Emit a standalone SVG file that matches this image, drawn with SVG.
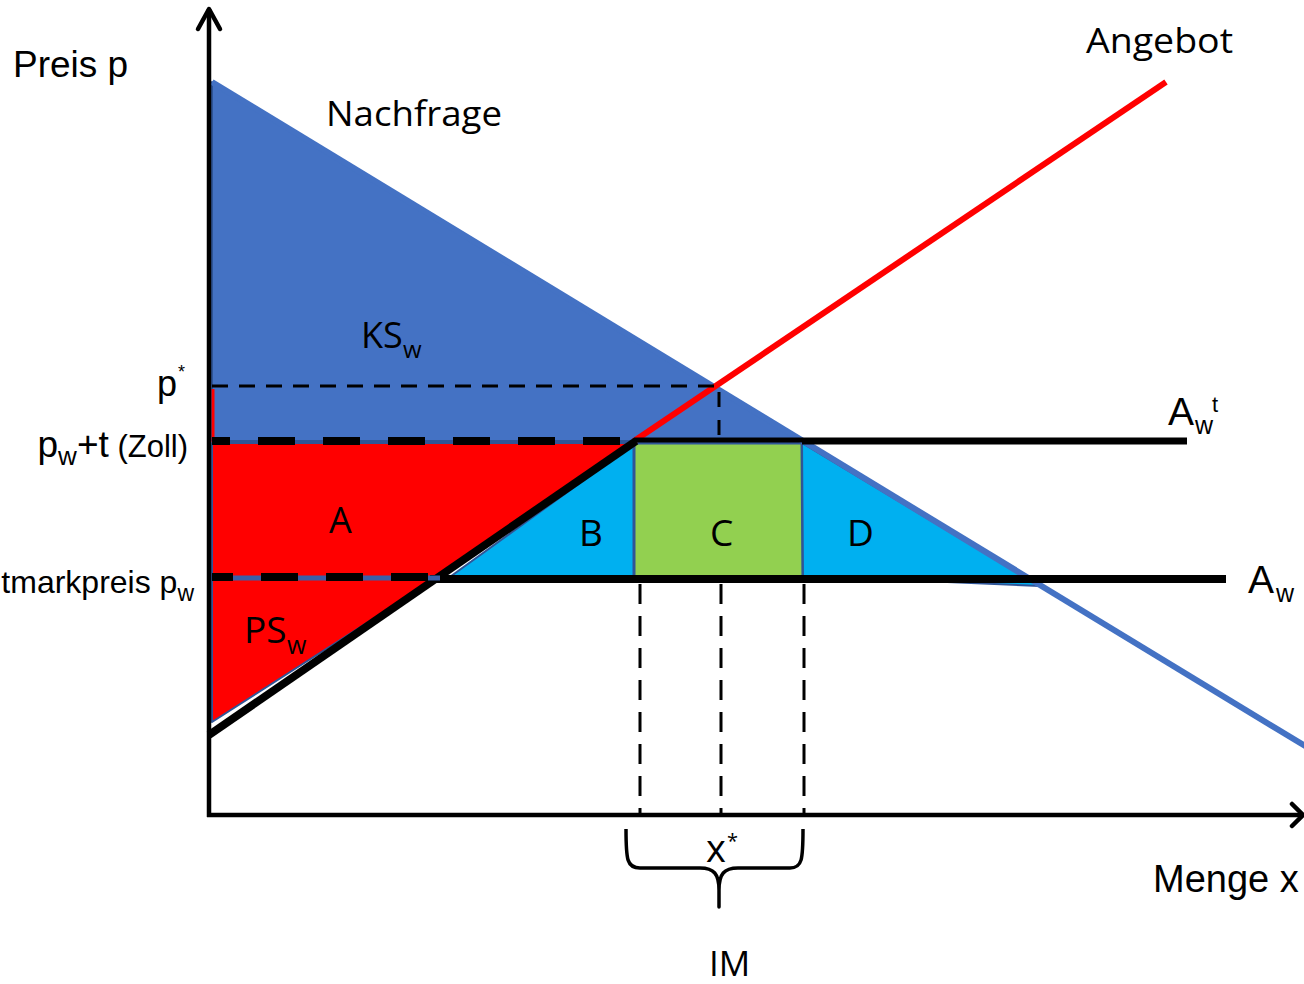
<svg xmlns="http://www.w3.org/2000/svg" width="1304" height="984" viewBox="0 0 1304 984">
<style>
.ar{font-family:"Liberation Sans",Arial,sans-serif;fill:#000}
.os{font-family:"Open Sans","Noto Sans",sans-serif;fill:#000}
.dsh{stroke:#000;fill:none}
.brd{stroke:#2F5597;stroke-width:2;stroke-linejoin:round}
</style>
<rect width="1304" height="984" fill="#fff"/>
<g id="areas">
  <polygon id="ks" points="212,82 802,441 212,441" fill="#4472C4" class="brd"/>
  <line x1="213" y1="389" x2="213" y2="443" stroke="#FF0000" stroke-width="3"/>
  <polygon id="area-a" points="212,443 634,443 437,578 212,578" fill="#FF0000" class="brd"/>
  <polygon id="ps" points="212,578 437,578 212,722" fill="#FF0000" class="brd"/>
  <polygon id="area-b" points="447,579 634,444 634,579" fill="#00B0F0" class="brd"/>
  <polygon id="area-c" points="634,443 802,443 803,579 634,579" fill="#92D050" stroke="#2F5597" stroke-width="3"/>
  <polygon id="area-d" points="802,443 1040,586 900,580 803,579" fill="#00B0F0" class="brd"/>
</g>
<g id="connectors">
  <line id="demand" x1="212" y1="82" x2="1310" y2="749" stroke="#4472C4" stroke-width="6"/>
  <line id="supply-red" x1="634" y1="441" x2="1166" y2="82" stroke="#FF0000" stroke-width="6"/>
  <line id="supply-black" x1="209" y1="735" x2="636" y2="441" stroke="#000" stroke-width="8"/>
  <line id="awt-top-c" x1="634" y1="440" x2="802" y2="440" stroke="#000" stroke-width="5"/>
  <line id="awt" x1="802" y1="441" x2="1187" y2="441" stroke="#000" stroke-width="7"/>
  <line id="aw" x1="430" y1="579" x2="1226" y2="579" stroke="#000" stroke-width="8"/>
  <line x1="212" y1="578" x2="440" y2="578" stroke="#3B5FA8" stroke-width="5"/>
  <line id="pwt-dash" x1="212" y1="441" x2="630" y2="441" class="dsh" stroke-width="8" stroke-dasharray="37 28" stroke-dashoffset="19"/>
  <line id="pw-dash" x1="212" y1="577" x2="430" y2="577" class="dsh" stroke-width="8" stroke-dasharray="37 28" stroke-dashoffset="16"/>
  <line id="pstar-h" x1="212" y1="386" x2="718" y2="386" class="dsh" stroke-width="3" stroke-dasharray="16 11"/>
  <line id="pstar-v" x1="719" y1="392" x2="719" y2="438" class="dsh" stroke-width="3" stroke-dasharray="15 13"/>
  <line x1="640" y1="584" x2="640" y2="815" class="dsh" stroke-width="3" stroke-dasharray="20 12"/>
  <line x1="721" y1="584" x2="721" y2="815" class="dsh" stroke-width="3" stroke-dasharray="20 12"/>
  <line x1="804" y1="584" x2="804" y2="815" class="dsh" stroke-width="3" stroke-dasharray="20 12"/>
  <path id="brace" d="M626,829 C626,860 627,868 640,868 L700,868 C714,868 719,874 719,890 L719,907 L719,890 C719,874 724,868 738,868 L790,868 C802,868 803,860 803,829" fill="none" stroke="#000" stroke-width="3.5" stroke-linejoin="round"/>
  <line id="y-axis" x1="209" y1="817" x2="209" y2="9" stroke="#000" stroke-width="4.5"/>
  <polyline points="198,29 209,9 220,29" fill="none" stroke="#000" stroke-width="4.5" stroke-linecap="round" stroke-linejoin="round"/>
  <line id="x-axis" x1="207" y1="815" x2="1303" y2="815" stroke="#000" stroke-width="4.5"/>
  <polyline points="1292,804 1303,815 1292,826" fill="none" stroke="#000" stroke-width="4.5" stroke-linecap="round" stroke-linejoin="round"/>
</g>
<g id="labels">
  <text class="ar" x="13" y="77" font-size="37">Preis p</text>
  <text class="ar" x="1153" y="892" font-size="38">Menge x</text>
  <text class="os" x="326" y="126" font-size="35" textLength="176" lengthAdjust="spacingAndGlyphs">Nachfrage</text>
  <text class="os" x="1086" y="53" font-size="35" textLength="147" lengthAdjust="spacingAndGlyphs">Angebot</text>
  <g id="label-ks"><text class="os" x="361" y="348" font-size="36">KS</text><text class="os" x="403" y="358" font-size="24">w</text></g>
  <g id="label-ps"><text class="os" x="244" y="643" font-size="37">PS</text><text class="os" x="287" y="654" font-size="25">w</text></g>
  <text class="os" x="329" y="533" font-size="36">A</text>
  <text class="os" x="579" y="546" font-size="37">B</text>
  <text class="os" x="710" y="546" font-size="37">C</text>
  <text class="os" x="847" y="546" font-size="37">D</text>
  <text class="os" x="709" y="976" font-size="35">IM</text>
  <g id="label-xstar"><text class="os" x="706" y="862" font-size="38">x</text><text class="os" x="727" y="848" font-size="20">*</text></g>
  <g id="label-pstar"><text class="ar" x="157" y="396" font-size="36">p</text><text class="ar" x="178" y="378" font-size="18">*</text></g>
  <text class="ar" x="188" y="457" text-anchor="end" font-size="37">p<tspan font-size="26" dy="8">w</tspan><tspan dy="-8">+t</tspan><tspan font-size="31"> (Zoll)</tspan></text>
  <text class="ar" x="194" y="593" text-anchor="end" font-size="32">tmarkpreis p<tspan font-size="23" dy="8">w</tspan></text>
  <g id="label-awt"><text class="ar" x="1168" y="425" font-size="39">A</text><text class="ar" x="1195" y="434" font-size="25">w</text><text class="ar" x="1212" y="412" font-size="22">t</text></g>
  <g id="label-aw"><text class="ar" x="1248" y="593" font-size="39">A</text><text class="ar" x="1276" y="602" font-size="25">w</text></g>
</g>
</svg>
